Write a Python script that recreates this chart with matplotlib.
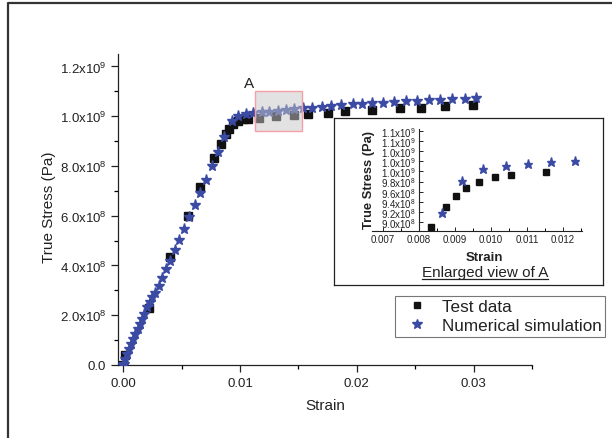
import numpy as np
import matplotlib
matplotlib.use('Agg')
import matplotlib.pyplot as plt
from matplotlib.patches import Rectangle
from matplotlib.lines import Line2D
from matplotlib.ticker import MultipleLocator, FuncFormatter, FormatStrFormatter

plt.rcParams['font.family'] = ['Liberation Sans', 'DejaVu Sans']
plt.rcParams['mathtext.default'] = 'regular'

# ---- data (strain, true stress in 1e9 Pa) ----
test_strain = [0.0, 0.00017, 0.00217, 0.00396, 0.00556, 0.00658, 0.00778, 0.00838,
               0.0088, 0.00906, 0.0094, 0.00983, 0.01026, 0.0107, 0.01162, 0.0131,
               0.0146, 0.0158, 0.0175, 0.019, 0.02128, 0.02368, 0.02547, 0.02752, 0.02991]
test_stress = [0.0, 0.04, 0.229, 0.434, 0.598, 0.715, 0.831, 0.888,
               0.928, 0.948, 0.968, 0.98, 0.988, 0.99, 0.992, 1.0,
               1.004, 1.008, 1.012, 1.02, 1.024, 1.032, 1.032, 1.04, 1.044]

sim_strain = [0.0, 0.00003, 0.00017, 0.00031, 0.00046, 0.00065, 0.00083, 0.00103, 0.00123,
              0.0014, 0.0016, 0.0018, 0.00202, 0.00225, 0.0025, 0.00274, 0.00302,
              0.00331, 0.00368, 0.00402, 0.00444, 0.00481, 0.00524, 0.00567, 0.00615,
              0.00658, 0.00709, 0.00764, 0.00815, 0.00866, 0.00929, 0.0098, 0.01048,
              0.01114, 0.01185, 0.0125, 0.01322, 0.01393, 0.01464, 0.01541, 0.01618,
              0.01698, 0.01778, 0.01861, 0.01963, 0.02048, 0.02134, 0.02225, 0.02319,
              0.02419, 0.02519, 0.02615, 0.02715, 0.02815, 0.02923, 0.03023]
sim_stress = [0.0, 0.004, 0.024, 0.044, 0.064, 0.084, 0.104, 0.124, 0.145,
              0.165, 0.185, 0.205, 0.232, 0.252, 0.272, 0.289, 0.316,
              0.348, 0.386, 0.419, 0.462, 0.503, 0.546, 0.593, 0.643,
              0.693, 0.744, 0.800, 0.858, 0.918, 0.979, 0.999, 1.008,
              1.012, 1.015, 1.017, 1.021, 1.025, 1.028, 1.031, 1.033,
              1.037, 1.040, 1.044, 1.048, 1.051, 1.052, 1.055, 1.057,
              1.060, 1.061, 1.064, 1.065, 1.068, 1.071, 1.075]

# enlarged view of region A
zoom_test_strain = [0.00833, 0.00875, 0.00903, 0.0093, 0.00967, 0.01011, 0.01056, 0.01153]
zoom_test_stress = [0.890, 0.930, 0.952, 0.968, 0.980, 0.988, 0.992, 0.998]
zoom_sim_strain = [0.00864, 0.00919, 0.00978, 0.01042, 0.01103, 0.01167, 0.01233]
zoom_sim_stress = [0.918, 0.982, 1.004, 1.010, 1.014, 1.018, 1.020]

region_a = (0.01132, 0.0153, 0.941, 1.1016)   # x0, x1, y0, y1

BLUE = '#3b4ba4'
TXT = '#222222'


def sci_fmt(v, pos):
    if abs(v) < 1e-6:
        return '0.0'
    e = int(np.floor(np.log10(abs(v)) + 1e-9))
    m = v / 10 ** e
    return f'{m:.1f}x10$^{{{e}}}$'


W, H = 612, 439
fig = plt.figure(figsize=(W / 100, H / 100), dpi=100)

# outer frame (only top and left edges visible in the original)
fx, fy = 7.5 / W, 1 - 3.5 / H
fig.add_artist(Line2D([fx, fx, 1.0], [0.0, fy, fy], transform=fig.transFigure,
                      color='#333333', lw=1.6))

# ============================================================
# main axes
# ============================================================
ax = fig.add_axes([118 / W, 1 - 366 / H, 414 / W, 311 / H])
ax.plot(test_strain, np.array(test_stress) * 1e9, 's', color='#111111', ms=6.3, ls='none', zorder=3)
ax.plot(sim_strain, np.array(sim_stress) * 1e9, '*', color=BLUE, ms=8, ls='none', zorder=4)

ax.add_patch(Rectangle((region_a[0], region_a[2] * 1e9), region_a[1] - region_a[0],
                       (region_a[3] - region_a[2]) * 1e9,
                       facecolor=(0.78, 0.78, 0.78, 0.5), edgecolor='#f4a0a8', lw=1.0, zorder=5))
ax.text(0.01074, 1.1325e9, 'A', fontsize=11, color=TXT, ha='center', va='center')

ax.set_xlim(-0.00045, 0.035)
ax.set_ylim(0, 1.25e9)
ax.xaxis.set_major_locator(MultipleLocator(0.01))
ax.xaxis.set_minor_locator(MultipleLocator(0.005))
ax.xaxis.set_major_formatter(FormatStrFormatter('%.2f'))
ax.yaxis.set_major_locator(MultipleLocator(2e8))
ax.yaxis.set_minor_locator(MultipleLocator(1e8))
ax.yaxis.set_major_formatter(FuncFormatter(sci_fmt))
ax.tick_params(which='major', direction='out', length=5, width=0.9, labelsize=9.5, colors=TXT)
ax.tick_params(which='minor', direction='out', length=3, width=0.9)
for s in ['top', 'right']:
    ax.spines[s].set_visible(False)
for s in ['left', 'bottom']:
    ax.spines[s].set_linewidth(0.9)
    ax.spines[s].set_color(TXT)
ax.set_xlabel('Strain', fontsize=11, color=TXT)
ax.set_ylabel('True Stress (Pa)', fontsize=11, color=TXT)
ax.xaxis.set_label_coords((325 - 118) / 414, -(399 - 366) / 311)
ax.yaxis.set_label_coords(-(118 - 56) / 414, (366 - 207) / 311)

handles = [Line2D([], [], marker='s', color='#111111', ls='none', ms=5),
           Line2D([], [], marker='*', color=BLUE, ls='none', ms=7)]
leg = ax.legend(handles, ['Test data', 'Numerical simulation'], loc='upper left',
                bbox_to_anchor=(395 / W, 1 - 297 / H), bbox_transform=fig.transFigure,
                borderaxespad=0, fontsize=12.3, frameon=True, fancybox=False,
                borderpad=0.2, labelspacing=0.22, handlelength=2.2, handletextpad=0.35,
                numpoints=1)
leg.get_frame().set_edgecolor('#555555')
leg.get_frame().set_linewidth(0.8)
for t in leg.get_texts():
    t.set_color(TXT)

# ============================================================
# inset box and enlarged view
# ============================================================
box = fig.add_axes([334 / W, 1 - 286 / H, 269 / W, 167 / H])
box.set_xticks([])
box.set_yticks([])
for s in box.spines.values():
    s.set_linewidth(0.9)
    s.set_color(TXT)
box.set_zorder(3)

axi = fig.add_axes([372 / W, 1 - 232 / H, 210 / W, 102 / H])
axi.set_zorder(4)
axi.patch.set_alpha(0)
axi.plot(zoom_test_strain, np.array(zoom_test_stress) * 1e9, 's', color='#111111', ms=4.5, ls='none')
axi.plot(zoom_sim_strain, np.array(zoom_sim_stress) * 1e9, '*', color=BLUE, ms=6.5, ls='none')
axi.set_xlim(0.006694, 0.01253)
axi.set_ylim(0.882e9, 1.084e9)
axi.spines['left'].set_position(('data', 0.008))
for s in ['top', 'right']:
    axi.spines[s].set_visible(False)
for s in ['left', 'bottom']:
    axi.spines[s].set_linewidth(0.8)
    axi.spines[s].set_color(TXT)
axi.xaxis.set_major_locator(MultipleLocator(0.001))
axi.xaxis.set_minor_locator(MultipleLocator(0.0005))
axi.xaxis.set_major_formatter(FormatStrFormatter('%.3f'))
axi.yaxis.set_major_locator(MultipleLocator(0.02e9))
axi.yaxis.set_major_formatter(FuncFormatter(sci_fmt))
axi.tick_params(which='major', direction='in', length=3, width=0.7, labelsize=7, colors=TXT, pad=2)
axi.tick_params(which='minor', direction='in', length=2, width=0.7)
axi.set_xlabel('Strain', fontsize=9.5, fontweight='bold', color=TXT)
axi.set_ylabel('True Stress (Pa)', fontsize=9.3, fontweight='bold', color=TXT)
axi.xaxis.set_label_coords((484 - 372) / 210, -(252 - 232) / 102)
axi.yaxis.set_label_coords(-(372 - 375) / 210, (232 - 180) / 102)
cap = fig.text(485 / W, 1 - 273 / H, 'Enlarged view of A', fontsize=11, color=TXT,
               ha='center', va='center', zorder=10)

# underline the caption
fig.canvas.draw()
bb = cap.get_window_extent().transformed(fig.transFigure.inverted())
uy = bb.y0 + 0.5 / H
fig.add_artist(Line2D([bb.x0, bb.x1], [uy, uy], transform=fig.transFigure, color=TXT, lw=0.9, zorder=10))

fig.savefig('out.png', dpi=100)
